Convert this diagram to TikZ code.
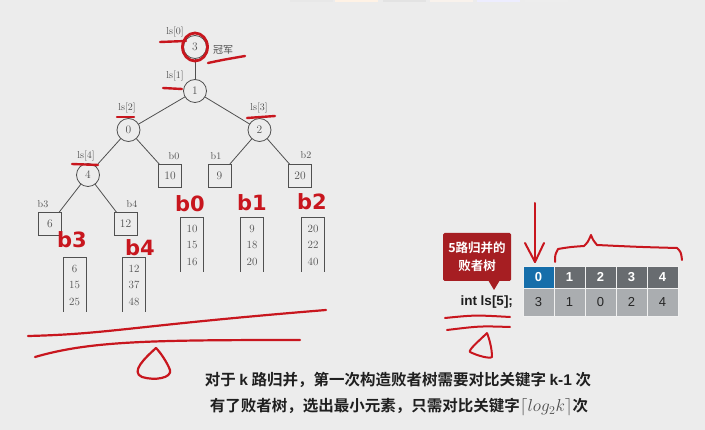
\documentclass[tikz,border=0pt]{standalone}
\usepackage{fontspec}
\newfontfamily\cjk{Noto Sans CJK SC}
\newfontfamily\cjkbold{Noto Sans CJK SC Bold}
\newfontfamily\uisans{Liberation Sans}
\newfontfamily\penfont{DejaVu Sans}
\definecolor{bg}{RGB}{236,236,236}
\definecolor{treeline}{RGB}{80,80,80}
\definecolor{treetext}{RGB}{80,80,80}
\definecolor{pen}{RGB}{200,22,30}
\definecolor{callout}{RGB}{166,30,34}
\definecolor{headblue}{RGB}{22,110,170}
\definecolor{headgray}{RGB}{104,108,112}
\definecolor{cellgray}{RGB}{170,173,176}
\begin{document}
\begin{tikzpicture}[x=1pt,y=-1pt,
  every node/.style={inner sep=0pt,outer sep=0pt},
  tnode/.style={circle,draw=treeline,line width=0.8pt,minimum size=23pt,fill=bg,text=treetext,font=\fontsize{11.5}{11.5}\selectfont},
  leafbox/.style={rectangle,draw=treeline,line width=1pt,minimum width=23pt,minimum height=23pt,fill=bg,text=treetext,font=\fontsize{11.5}{11.5}\selectfont},
  idx/.style={text=treetext,font=\fontsize{10}{10}\selectfont},
  runcol/.style={minimum width=23pt,minimum height=54pt,align=center,text=treetext,font=\fontsize{11}{16.5}\selectfont},
  runedge/.style={draw=treeline,line width=1pt},
  edge/.style={draw=treeline,line width=0.8pt},
  penmark/.style={draw=pen,line width=2.4pt,line cap=round,line join=round},
  penlabel/.style={text=pen,font=\penfont\bfseries\fontsize{21}{21}\selectfont},
  hcell/.style={minimum width=31pt,minimum height=22pt,text=white,font=\uisans\bfseries\fontsize{13}{13}\selectfont,draw=bg!80!white,line width=0.6pt},
  vcell/.style={minimum width=31pt,minimum height=28pt,fill=cellgray,text=black!85,font=\uisans\fontsize{13}{13}\selectfont,draw=bg!80!white,line width=0.6pt},
  note/.style={text=black!88,font=\cjkbold\fontsize{15.5}{15.5}\selectfont}
]
% canvas
\fill[bg] (0,0) rectangle (705,430);
\useasboundingbox (0,0) rectangle (705,430);

% faint tabs along the upper edge
\foreach \x/\c in {290/gray!18,335/orange!10,383/gray!22,430/brown!10,477/blue!7,525/gray!14}
  \fill[\c] (\x,0) rectangle ++(43,2.5);

% ---------------- loser tree ----------------
\node[tnode] (n0) at (195,47) {3};
\node[tnode] (n1) at (195,91) {1};
\node[tnode] (n2) at (128.5,130) {0};
\node[tnode] (n3) at (259.5,130) {2};
\node[tnode] (n4) at (88,175) {4};
\node[leafbox] (l0) at (170,176) {10};
\node[leafbox] (l1) at (219.5,176) {9};
\node[leafbox] (l2) at (300,176) {20};
\node[leafbox] (l3) at (50,224) {6};
\node[leafbox] (l4) at (125.5,224) {12};

\draw[edge] (n0) -- (n1);
\draw[edge] (n1) -- (n2);
\draw[edge] (n1) -- (n3);
\draw[edge] (n2) -- (n4);
\draw[edge] (n2) -- (l0);
\draw[edge] (n3) -- (l1);
\draw[edge] (n3) -- (l2);
\draw[edge] (n4) -- (l3);
\draw[edge] (n4) -- (l4);

% slot and buffer labels
\node[idx] (t0) at (175,32) {ls[0]};
\node[idx] (t1) at (175,76) {ls[1]};
\node[idx] (t2) at (127,108) {ls[2]};
\node[idx] (t3) at (259,108) {ls[3]};
\node[idx] (t4) at (86,156) {ls[4]};
\node[text=treetext,font=\cjk\fontsize{10}{10}\selectfont] (champ) at (223,50) {冠军};
\node[idx] (bl0) at (174,156) {b0};
\node[idx] (bl1) at (216,156) {b1};
\node[idx] (bl2) at (306,155) {b2};
\node[idx] (bl3) at (43,204) {b3};
\node[idx] (bl4) at (132,204) {b4};

% sorted runs (open-bottom columns)
\node[runcol] (r3) at (74.5,285) {6\\15\\25};
\node[runcol] (r4) at (134,285) {12\\37\\48};
\node[runcol] (r0) at (192,245) {10\\15\\16};
\node[runcol] (r1) at (252,245) {9\\18\\20};
\node[runcol] (r2) at (313,245) {20\\22\\40};
\foreach \r in {r0,r1,r2,r3,r4}
  \draw[runedge] (\r.south west) -- (\r.north west) -- (\r.north east) -- (\r.south east);

% ---------------- pen annotations ----------------
\draw[penmark,line width=2.8pt] (195,47) ellipse (12.5 and 14);
\draw[penmark] (160,42) -- (186,41);
\draw[penmark] (208,63) .. controls (222,60) .. (245,56);
\draw[penmark] (163,88) -- (182,89);
\draw[penmark] (117,117) -- (134,117);
\draw[penmark] (247,118) -- (275,116);
\draw[penmark] (72,164) -- (98,165);

\node[penlabel] (p0) at (190,204) {b0};
\node[penlabel] (p1) at (252,203) {b1};
\node[penlabel] (p2) at (312,202) {b2};
\node[penlabel] (p3) at (72,240) {b3};
\node[penlabel] (p4) at (140,248) {b4};

% strokes under the tree
\draw[penmark,line width=2.2pt] (28,336) .. controls (110,334) and (130,326) .. (326,310);
\draw[penmark,line width=2.2pt] (35,357) .. controls (90,341) and (150,340) .. (300,340);
\draw[penmark,line width=2.2pt] (156,348) .. controls (145,358) and (130,372) .. (142,377)
   .. controls (155,381) and (172,378) .. (170,370) .. controls (167,362) and (160,352) .. (156,348);

% ---------------- array view ----------------
\node[hcell,fill=headblue] (h0) at (538.5,277) {0};
\node[hcell,fill=headgray] (h1) at (569.5,277) {1};
\node[hcell,fill=headgray] (h2) at (600.5,277) {2};
\node[hcell,fill=headgray] (h3) at (631.5,277) {3};
\node[hcell,fill=headgray] (h4) at (662.5,277) {4};
\node[vcell] (v0) at (538.5,302) {3};
\node[vcell] (v1) at (569.5,302) {1};
\node[vcell] (v2) at (600.5,302) {0};
\node[vcell] (v3) at (631.5,302) {2};
\node[vcell] (v4) at (662.5,302) {4};

\node[fill=callout,rounded corners=1.5pt,minimum width=68pt,minimum height=48pt,align=center,
      text=white,font=\cjkbold\fontsize{12.5}{18}\selectfont] (tag) at (477,257) {5路归并的\\败者树};
\fill[callout] (488,280) -- (500,280) -- (494,290) -- cycle;
\node[text=black!88,font=\uisans\bfseries\fontsize{13.5}{13.5}\selectfont,anchor=east] (decl) at (513,302) {int ls[5];};

% pen marks around the array
\coordinate (arrTop) at (535,203);
\draw[penmark,line width=2pt] (arrTop) -- (535,262);
\draw[penmark,line width=2pt] (525,243) -- (535,262) -- (544,243);
\draw[penmark,line width=2pt] (555,262) .. controls (555,255) .. (558,249) .. controls (570,247) .. (584,246)
   .. controls (588,242) .. (591,235) .. controls (593,240) .. (597,245)
   .. controls (640,247) .. (677,248) .. controls (681,252) .. (682,260);
\draw[penmark,line width=2pt] (445,318) .. controls (475,315) .. (510,317);
\draw[penmark,line width=2pt] (447,330) .. controls (480,326) .. (510,327);
\draw[penmark,line width=2pt] (487,333) .. controls (480,340) and (468,350) .. (470,352)
   .. controls (478,356) and (490,359) .. (492,357) .. controls (492,348) and (489,338) .. (487,333);

% ---------------- notes ----------------
\node[note] (note1) at (398,380) {对于 {\uisans\bfseries k} 路归并，第一次构造败者树需要对比关键字 {\uisans\bfseries k-1} 次};
\node[note] (note2) at (399,407) {有了败者树，选出最小元素，只需对比关键字{\mdseries\color{black!70}\fontsize{17.5}{17.5}\selectfont$\lceil log_2k\rceil$}次};
\end{tikzpicture}
\end{document}
